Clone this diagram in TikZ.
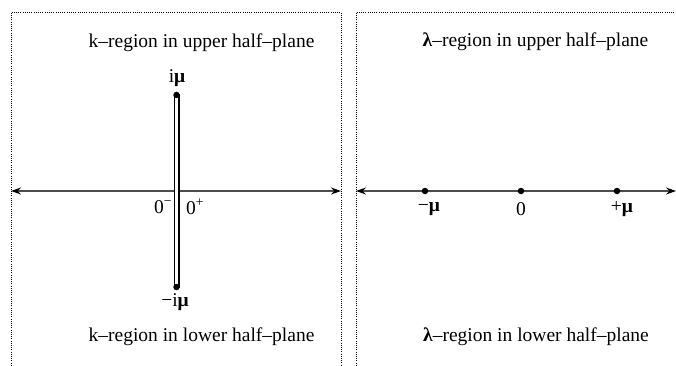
\documentclass[tikz,border=0pt]{standalone}
\usepackage{fontspec}
\setmainfont{Liberation Serif}
\usetikzlibrary{arrows.meta}
\newcommand{\gmu}{\textbf{μ}}
\newcommand{\glam}{\textbf{λ}}
\begin{document}
\begin{tikzpicture}[x=1pt,y=-1pt,
  txt/.style={font=\fontsize{19.5}{22}\selectfont, inner sep=0pt, anchor=center},
  frame/.style={line width=0.8pt, dash pattern=on 0.8pt off 1.4pt},
  axis/.style={line width=1.8pt, draw=black!70, {Stealth[black,length=10pt,width=7pt]}-{Stealth[black,length=10pt,width=7pt]}},
  pt/.style={circle, fill=black, inner sep=0pt, minimum size=6.5pt},
  slit/.style={line width=1.4pt, fill=white}]
\useasboundingbox (0,0) rectangle (676,366);
\clip (0,0) rectangle (676,366);
% frames
\draw[frame] (11,370) -- (11,12) -- (341,12) -- (341,370);
\draw[frame] (356,370) -- (356,12) -- (690,12);
% left axis
\coordinate (la) at (11,191);
\coordinate (lb) at (341,191);
\draw[axis] (la) -- (lb);
% right axis
\coordinate (ra) at (356,191);
\coordinate (rb) at (676,191);
\draw[axis] (ra) -- (rb);
% slit
\coordinate (st) at (176.5,95);
\coordinate (sb) at (176.5,287);
\draw[slit] (174.2,95) rectangle (178.8,287);
\node[pt] (tdot) at (st) {};
\node[pt] (bdot) at (sb) {};
% labels left
\node[txt] (imu) at (177,78) {i\gmu};
\node[txt] (mimu) at (175,302) {−i\gmu};
\node[txt] (zm) at (163,207) {0\textsuperscript{−}};
\node[txt] (zp) at (195,207) {0\textsuperscript{+}};
\node[txt] (kup) at (201.5,43) {k–region in upper half–plane};
\node[txt] (klo) at (201.5,337) {k–region in lower half–plane};
% right
\node[pt] (pm) at (425,191) {};
\node[pt] (p0) at (521,191) {};
\node[pt] (pp) at (617,191) {};
\node[txt] (lm) at (429,209) {−\gmu};
\node[txt] (l0) at (521,209) {0};
\node[txt] (lp) at (622,209) {+\gmu};
\node[txt] (lup) at (535.5,42) {\glam–region in upper half–plane};
\node[txt] (llo) at (536,337) {\glam–region in lower half–plane};
\end{tikzpicture}
\end{document}
